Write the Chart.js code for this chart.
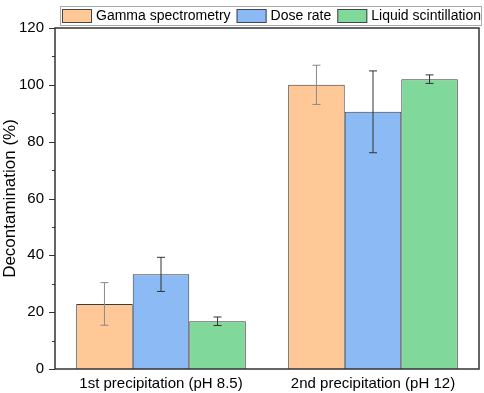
<!DOCTYPE html>
<html>
<head>
<meta charset="utf-8">
<script src="https://cdn.jsdelivr.net/npm/chart.js@4.4.1/dist/chart.umd.min.js"></script>
<style>
  html, body { margin: 0; padding: 0; background: #fff; }
  #wrap { width: 484px; height: 393px; }
</style>
</head>
<body>
<div id="wrap"><canvas id="decon"></canvas></div>
<script>
var categories = ["1st precipitation (pH 8.5)", "2nd precipitation (pH 12)"];
var seriesNames = ["Gamma spectrometry", "Dose rate", "Liquid scintillation"];
var gammaValues = [22.9, 100.0];
var gammaErrors = [7.5, 6.9];
var doseValues = [33.3, 90.5];
var doseErrors = [6.0, 14.4];
var liquidValues = [16.8, 102.0];
var liquidErrors = [1.5, 1.5];
var fillColors = ["#ffc896", "#8cbaf5", "#80d99b"];
var errorColors = ["#8a8a8a", "#333333", "#333333"];

var FONT = "'Liberation Sans', Arial, sans-serif";

// error bars, drawn from the y scale
var errorBars = {
  id: "errorBars",
  afterDatasetsDraw: function (chart) {
    var ctx = chart.ctx;
    var y = chart.scales.y;
    chart.data.datasets.forEach(function (ds, i) {
      var meta = chart.getDatasetMeta(i);
      meta.data.forEach(function (bar, j) {
        var v = ds.data[j], e = ds.errors[j];
        var top = y.getPixelForValue(v + e);
        var bot = y.getPixelForValue(v - e);
        ctx.save();
        ctx.strokeStyle = errorColors[i];
        ctx.lineWidth = 1;
        ctx.beginPath();
        ctx.moveTo(bar.x, top); ctx.lineTo(bar.x, bot);
        ctx.moveTo(bar.x - 4, top); ctx.lineTo(bar.x + 4, top);
        ctx.moveTo(bar.x - 4, bot); ctx.lineTo(bar.x + 4, bot);
        ctx.stroke();
        ctx.restore();
      });
    });
  }
};

// frame, major/minor ticks and boxed legend
var frameAndLegend = {
  id: "frameAndLegend",
  afterDraw: function (chart) {
    var ctx = chart.ctx;
    var a = chart.chartArea;
    var y = chart.scales.y;
    ctx.save();
    ctx.strokeStyle = "#333";
    ctx.lineWidth = 1.5;
    ctx.strokeRect(a.left, a.top, a.right - a.left, a.bottom - a.top);
    ctx.lineWidth = 1;
    for (var v = 0; v <= 120; v += 10) {
      var py = Math.round(y.getPixelForValue(v)) + 0.5;
      var len = v % 20 === 0 ? 6 : 3;
      ctx.beginPath();
      ctx.moveTo(a.left - len, py);
      ctx.lineTo(a.left, py);
      ctx.stroke();
    }

    // legend
    ctx.font = "14px " + FONT;
    ctx.fillStyle = "#fff";
    ctx.fillRect(60, 6, 421, 19);
    ctx.strokeStyle = "#aaa";
    ctx.strokeRect(60.5, 6.5, 421, 19);
    var x = 62;
    chart.data.datasets.forEach(function (ds, i) {
      ctx.fillStyle = fillColors[i];
      ctx.fillRect(x, 9, 30, 14);
      ctx.strokeStyle = "#444";
      ctx.strokeRect(x + 0.5, 9.5, 29, 13);
      ctx.fillStyle = "#000";
      ctx.textBaseline = "middle";
      ctx.fillText(ds.label, x + 34, 16.5);
      x += 34 + ctx.measureText(ds.label).width + 6;
    });
    ctx.restore();
  }
};

new Chart(document.getElementById("decon"), {
  type: "bar",
  data: {
    labels: categories,
    datasets: [
      { label: seriesNames[0], data: gammaValues, errors: gammaErrors, backgroundColor: fillColors[0] },
      { label: seriesNames[1], data: doseValues, errors: doseErrors, backgroundColor: fillColors[1] },
      { label: seriesNames[2], data: liquidValues, errors: liquidErrors, backgroundColor: fillColors[2] }
    ]
  },
  options: {
    responsive: true,
    maintainAspectRatio: false,
    animation: false,
    layout: { padding: { top: 28, right: 5, left: 0, bottom: 0 } },
    datasets: {
      bar: { categoryPercentage: 0.8, barPercentage: 1.0, borderColor: "#3a3a3a", borderWidth: 1 }
    },
    plugins: { legend: { display: false }, tooltip: { enabled: false } },
    scales: {
      x: {
        grid: { display: false, drawTicks: false },
        border: { display: false },
        ticks: { color: "#000", padding: 6, font: { family: FONT, size: 15 } },
        afterFit: function (s) { s.height = 24; }
      },
      y: {
        min: 0,
        max: 120,
        grid: { display: false, drawTicks: false },
        border: { display: false },
        ticks: { stepSize: 20, color: "#000", padding: 11, font: { family: FONT, size: 15 } },
        title: { display: true, text: "Decontamination (%)", color: "#000", padding: 0, font: { family: FONT, size: 17 } },
        afterFit: function (s) { s.width = 55; }
      }
    }
  },
  plugins: [errorBars, frameAndLegend]
});
</script>
</body>
</html>
